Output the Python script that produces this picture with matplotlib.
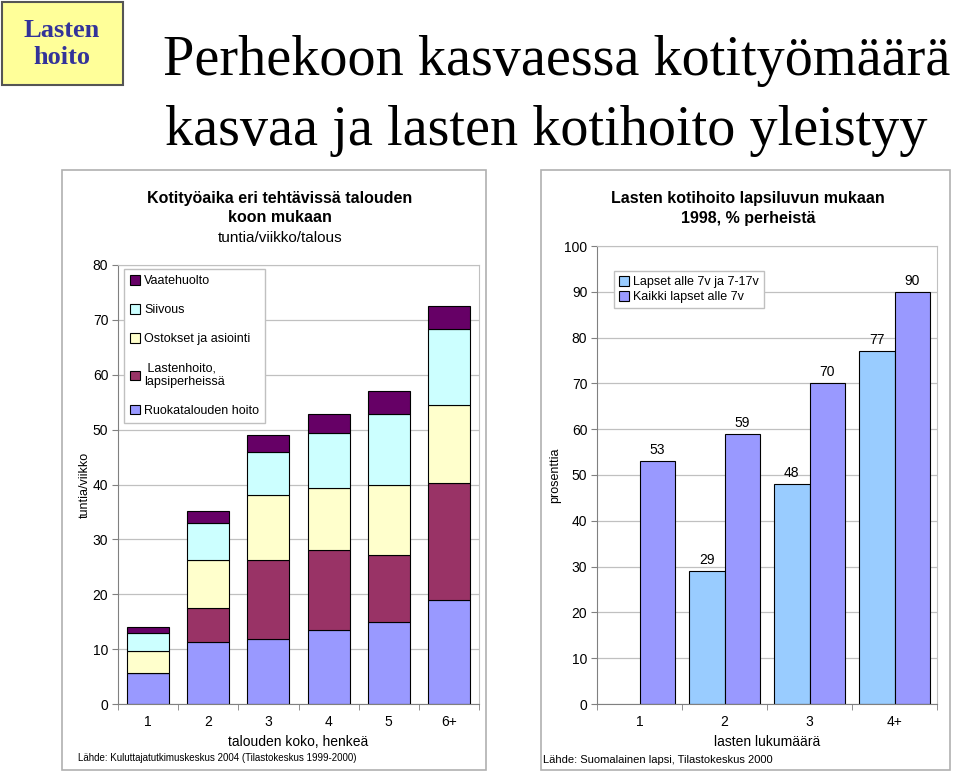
import matplotlib
matplotlib.use('Agg')
import matplotlib.pyplot as plt
from matplotlib.patches import Rectangle, Patch
import numpy as np

# Vasen kuva: kotityöaika talouden koon mukaan (tuntia/viikko)
koot = ['1', '2', '3', '4', '5', '6+']
ruoka = [5.7, 11.3, 11.9, 13.4, 14.9, 18.9]
lastenhoito = [0, 6.2, 14.3, 14.7, 12.3, 21.3]
ostokset = [4.0, 8.7, 11.8, 11.2, 12.8, 14.3]
siivous = [3.2, 6.7, 8.0, 10.0, 12.8, 13.8]
vaate = [1.2, 2.2, 3.0, 3.6, 4.2, 4.3]

# Oikea kuva: lasten kotihoito lapsiluvun mukaan (%)
lapsiluku = ['1', '2', '3', '4+']
alle7_ja_7_17 = [None, 29, 48, 77]
kaikki_alle7 = [53, 59, 70, 90]

W, H = 960, 772
plt.rcParams['font.family'] = ['Liberation Sans', 'DejaVu Sans']
fig = plt.figure(figsize=(W / 100, H / 100), dpi=100)


def px(x, y):
    return x / W, 1 - y / H


def ax_rect(x0, x1, y0, y1):
    # pikselit -> figure-koordinaatit
    return [x0 / W, 1 - y1 / H, (x1 - x0) / W, (y1 - y0) / H]


# otsikkolaatikko ja otsikko
fig.patches.append(Rectangle(px(2, 85), 121 / W, 83 / H, transform=fig.transFigure,
                             facecolor='#FFFF99', edgecolor='#555555', lw=1.5))
fig.text(*px(62, 44), 'Lasten\nhoito', ha='center', va='center', fontsize=19,
         fontweight='bold', color='#333399', family='Liberation Serif', linespacing=1.2)
fig.text(*px(163, 75), 'Perhekoon kasvaessa kotityömäärä', ha='left', va='baseline',
         fontsize=40.5, family='Liberation Serif')
fig.text(*px(165, 145), 'kasvaa ja lasten kotihoito yleistyy', ha='left', va='baseline',
         fontsize=40.5, family='Liberation Serif')

# paneelien reunat
for (x0, x1) in [(62, 486), (541, 950)]:
    fig.patches.append(Rectangle(px(x0, 770), (x1 - x0) / W, 600 / H, transform=fig.transFigure,
                                 facecolor='none', edgecolor='#b0b0b0', lw=1.2))


def muotoile(ax, n):
    ax.set_xlim(-0.5, n - 0.5)
    ax.set_xticks(range(n))
    ax.set_xticks(np.arange(n + 1) - 0.5, minor=True)
    ax.tick_params(axis='x', which='major', length=0, pad=8, labelsize=10)
    ax.tick_params(axis='x', which='minor', length=4, direction='out', color='#808080')
    ax.tick_params(axis='y', length=4, direction='out', color='#808080', labelsize=10, pad=3)
    ax.yaxis.grid(True, color='#c0c0c0', lw=0.9)
    ax.set_axisbelow(True)
    for s in ['top', 'right']:
        ax.spines[s].set_color('#c0c0c0')
    for s in ['left', 'bottom']:
        ax.spines[s].set_color('#808080')


# vasen pinottu pylväskuva
ax1 = fig.add_axes(ax_rect(118, 479, 265, 704))
x = np.arange(len(koot))
sarjat = [('Ruokatalouden hoito', ruoka, '#9999FF'),
          (' Lastenhoito,\nlapsiperheissä', lastenhoito, '#993366'),
          ('Ostokset ja asiointi', ostokset, '#FFFFCC'),
          ('Siivous', siivous, '#CCFFFF'),
          ('Vaatehuolto', vaate, '#660066')]
pohja = np.zeros(len(koot))
for nimi, arvot, vari in sarjat:
    ax1.bar(x, arvot, 0.7, bottom=pohja, color=vari, edgecolor='black', lw=0.8)
    pohja += np.array(arvot)
ax1.set_ylim(0, 80)
ax1.set_yticks(range(0, 81, 10))
ax1.set_xticklabels(koot)
muotoile(ax1, len(koot))
kahvat = [Patch(facecolor=v, edgecolor='black', lw=0.8, label=n) for n, a, v in sarjat[::-1]]
ax1.legend(handles=kahvat, loc='upper left', bbox_to_anchor=px(124, 269),
           bbox_transform=fig.transFigure, fontsize=9, frameon=True, fancybox=False,
           edgecolor='#c0c0c0', framealpha=1, labelspacing=1.35, handlelength=0.8,
           handleheight=0.8, handletextpad=0.3, borderpad=0.5, borderaxespad=0)

fig.text(*px(280, 198), 'Kotityöaika eri tehtävissä talouden', ha='center', va='center',
         fontsize=11.5, fontweight='bold')
fig.text(*px(280, 218), 'koon mukaan', ha='center', va='center', fontsize=11.5, fontweight='bold')
fig.text(*px(280, 238), 'tuntia/viikko/talous', ha='center', va='center', fontsize=11)
fig.text(*px(85, 485), 'tuntia/viikko', ha='center', va='center', rotation=90, fontsize=9)
fig.text(*px(298, 742), 'talouden koko, henkeä', ha='center', va='center', fontsize=10)
fig.text(*px(78, 758), 'Lähde: Kuluttajatutkimuskeskus 2004 (Tilastokeskus 1999-2000)',
         ha='left', va='center', fontsize=7)

# oikea ryhmitelty pylväskuva
ax2 = fig.add_axes(ax_rect(597, 937, 246, 704))
x2 = np.arange(len(lapsiluku))
bw = 0.42
i1 = [i for i, v in enumerate(alle7_ja_7_17) if v is not None]
b1 = ax2.bar(x2[i1] - bw / 2, [alle7_ja_7_17[i] for i in i1], bw, color='#99CCFF',
             edgecolor='black', lw=0.8, label='Lapset alle 7v ja 7-17v')
b2 = ax2.bar(x2 + bw / 2, kaikki_alle7, bw, color='#9999FF', edgecolor='black', lw=0.8,
             label='Kaikki lapset alle 7v')
ax2.bar_label(b1, padding=3, fontsize=10)
ax2.bar_label(b2, padding=3, fontsize=10)
ax2.set_ylim(0, 100)
ax2.set_yticks(range(0, 101, 10))
ax2.set_xticklabels(lapsiluku)
muotoile(ax2, len(lapsiluku))
ax2.legend(loc='upper left', bbox_to_anchor=px(614, 271), bbox_transform=fig.transFigure,
           fontsize=9, frameon=True, fancybox=False, edgecolor='#c0c0c0', framealpha=1,
           labelspacing=0.25, handlelength=0.8, handleheight=0.8, handletextpad=0.3,
           borderpad=0.4, borderaxespad=0)

fig.text(*px(748, 198), 'Lasten kotihoito lapsiluvun mukaan', ha='center', va='center',
         fontsize=11.5, fontweight='bold')
fig.text(*px(748, 218), '1998, % perheistä', ha='center', va='center', fontsize=11.5,
         fontweight='bold')
fig.text(*px(555, 475), 'prosenttia', ha='center', va='center', rotation=90, fontsize=9)
fig.text(*px(767, 742), 'lasten lukumäärä', ha='center', va='center', fontsize=10)
fig.text(*px(543, 760), 'Lähde: Suomalainen lapsi, Tilastokeskus 2000', ha='left',
         va='center', fontsize=8)

fig.savefig('out.png', dpi=100)
